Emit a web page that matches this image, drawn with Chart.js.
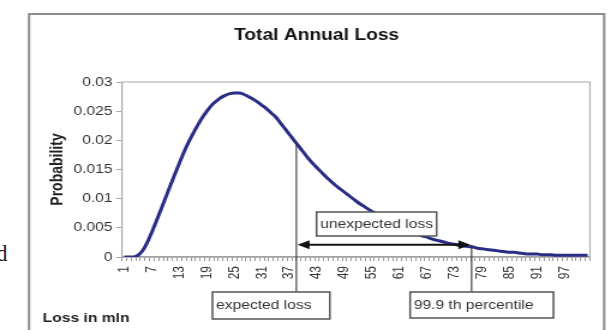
<!DOCTYPE html>
<html><head><meta charset="utf-8">
<script src="https://cdn.jsdelivr.net/npm/chart.js@4/dist/chart.umd.min.js"></script>
<style>
html,body{margin:0;padding:0;background:#fff;overflow:hidden;width:611px;height:330px;}
#wrap{position:absolute;left:0;top:0;width:509px;height:330px;transform:scaleX(1.2004);transform-origin:0 0;}
#stray{position:absolute;left:-4px;top:240px;font-family:'Liberation Serif',serif;font-size:23px;line-height:28px;color:#222;}
</style></head><body>
<div id="stray">d</div>
<div id="wrap"><canvas id="c"></canvas></div>
<script>
// ---- data ----
const lossCategories = [1,2,3,4,5,6,7,8,9,10,11,12,13,14,15,16,17,18,19,20,21,22,23,24,25,26,27,28,29,30,31,32,33,34,35,36,37,38,39,40,41,42,43,44,45,46,47,48,49,50,51,52,53,54,55,56,57,58,59,60,61,62,63,64,65,66,67,68,69,70,71,72,73,74,75,76,77,78,79,80,81,82,83,84,85,86,87,88,89,90,91,92,93,94,95,96,97,98,99,100,101,102];
const probability = [0,0,0,0.0003,0.0011,0.0025,0.0043,0.0062,0.0082,0.0102,
  0.0122,0.0142,0.0161,0.0180,0.0197,0.0212,0.0226,0.0239,0.0250,0.0260,
  0.0267,0.0273,0.0277,0.0280,0.0281,0.0281,0.0279,0.0275,0.0271,0.0266,
  0.0260,0.0254,0.0247,0.0240,0.0230,0.0220,0.0210,0.0200,0.0190,0.0180,
  0.0170,0.0161,0.0153,0.0145,0.0137,0.0130,0.0123,0.0117,0.0111,0.0105,
  0.0099,0.0093,0.0088,0.0083,0.0078,0.0074,0.0069,0.0065,0.0061,0.0057,
  0.0053,0.0049,0.0046,0.0042,0.0039,0.0036,0.0034,0.0031,0.0029,0.0027,
  0.0025,0.0023,0.0022,0.0020,0.0019,0.0018,0.0017,0.0015,0.0014,0.0013,
  0.0012,0.0011,0.0010,0.0009,0.0008,0.0008,0.0007,0.0006,0.0005,0.0005,
  0.0005,0.0004,0.0004,0.0004,0.0003,0.0003,0.0003,0.0003,0.0003,0.0003,
  0.0003,0.0003];
const xTickLabels = ['1','7','13','19','25','31','37','43','49','55','61','67','73','79','85','91','97'];
const yTickLabels = ['0','0.005','0.01','0.015','0.02','0.025','0.03'];
// annotation values (loss units / probability units)
const expectedLoss = 38.5;
const expectedLossLevel = 0.0197;
const percentile999 = 76.7;
const arrowLevel = 0.0021;

const FONT = "'Liberation Sans', Arial, sans-serif";

const decor = {
  id: 'decor',
  beforeDraw(chart) {
    const ctx = chart.ctx;
    ctx.save();
    ctx.strokeStyle = '#8c8c8c';
    ctx.lineWidth = 2;
    ctx.strokeRect(24.2, 14, 479.1, 340);
    ctx.restore();
  },
  beforeDatasetsDraw(chart) {
    const {ctx, chartArea: a} = chart;
    ctx.save();
    ctx.strokeStyle = '#a8a8a8';
    ctx.lineWidth = 1;
    ctx.strokeRect(a.left, a.top, a.right - a.left, a.bottom - a.top);
    ctx.restore();
  },
  afterDatasetsDraw(chart) {
    const {ctx, chartArea: a} = chart;
    const xs = chart.scales.x, ys = chart.scales.y;
    const xE = xs.getPixelForValue(expectedLoss - 1);
    const xP = xs.getPixelForValue(percentile999 - 1);
    const yA = ys.getPixelForValue(arrowLevel);
    const boxTop = a.bottom + 35;
    ctx.save();
    // vertical lines
    ctx.strokeStyle = '#333';
    ctx.lineWidth = 1.1;
    ctx.beginPath();
    ctx.moveTo(xE, ys.getPixelForValue(expectedLossLevel));
    ctx.lineTo(xE, boxTop);
    ctx.moveTo(xP, yA);
    ctx.lineTo(xP, boxTop);
    ctx.stroke();
    // arrow
    ctx.strokeStyle = '#111';
    ctx.fillStyle = '#111';
    ctx.lineWidth = 2;
    const x1 = xE + 1, x2 = xP - 1, hl = 10, hh = 4.5;
    ctx.beginPath();
    ctx.moveTo(x1 + hl - 1, yA);
    ctx.lineTo(x2 - hl + 1, yA);
    ctx.stroke();
    ctx.beginPath();
    ctx.moveTo(x1, yA); ctx.lineTo(x1 + hl, yA - hh); ctx.lineTo(x1 + hl, yA + hh); ctx.closePath();
    ctx.fill();
    ctx.beginPath();
    ctx.moveTo(x2, yA); ctx.lineTo(x2 - hl, yA - hh); ctx.lineTo(x2 - hl, yA + hh); ctx.closePath();
    ctx.fill();
    // boxes
    const boxes = [
      {text: 'expected loss', left: 20.2, top: boxTop, w: 97.8, h: 27},
      {text: '99.9 th percentile', left: 63.3, top: boxTop, w: 119.4, h: 26},
      {text: 'unexpected loss', left: 42.9, top: a.top + 130, w: 100, h: 24}
    ];
    ctx.font = '13px ' + FONT;
    ctx.textBaseline = 'middle';
    ctx.textAlign = 'left';
    boxes.forEach(b => {
      const bx = xs.getPixelForValue(b.left - 1);
      ctx.fillStyle = '#fff';
      ctx.fillRect(bx, b.top, b.w, b.h);
      ctx.strokeStyle = '#555';
      ctx.lineWidth = 1.5;
      ctx.strokeRect(bx, b.top, b.w, b.h);
      ctx.fillStyle = '#333';
      ctx.fillText(b.text, bx + 3, b.top + b.h / 2);
    });
    // x axis title
    ctx.font = 'bold 13px ' + FONT;
    ctx.fillStyle = '#222';
    ctx.fillText('Loss in mln', 35.6, 318);
    ctx.restore();
  }
};

new Chart(document.getElementById('c'), {
  type: 'line',
  data: {
    labels: lossCategories,
    datasets: [{
      data: probability,
      borderColor: '#2a2d84',
      borderWidth: 3,
      pointRadius: 0,
      fill: false,
      cubicInterpolationMode: 'monotone'
    }]
  },
  plugins: [decor],
  options: {
    responsive: true,
    maintainAspectRatio: false,
    animation: false,
    events: [],
    layout: {padding: {left: 35, right: 16.5, top: 0, bottom: 0}},
    plugins: {
      legend: {display: false},
      tooltip: {enabled: false},
      title: {
        display: true,
        text: 'Total Annual Loss',
        color: '#111',
        font: {family: FONT, size: 16, weight: 'bold'},
        padding: {top: 26.4, bottom: 36.4}
      }
    },
    scales: {
      x: {
        type: 'category',
        offset: true,
        afterFit(s) { s.height = 73; },
        grid: {display: true, drawOnChartArea: false, tickLength: 4, color: '#9a9a9a', offset: true},
        border: {display: true, color: '#999', width: 1.5},
        ticks: {
          autoSkip: false,
          minRotation: 90,
          maxRotation: 90,
          padding: 5,
          color: '#333',
          font: {family: FONT, size: 12},
          callback(v, i) {
            const lab = String(lossCategories[i]);
            return xTickLabels.includes(lab) ? lab : '';
          }
        }
      },
      y: {
        min: 0,
        max: 0.03,
        afterFit(s) { s.width = 66.7; },
        grid: {display: true, drawOnChartArea: false, tickLength: 5, color: '#aaa'},
        border: {display: true, color: '#a8a8a8', width: 1},
        ticks: {
          stepSize: 0.005,
          padding: 3,
          color: '#333',
          font: {family: FONT, size: 13},
          callback(v, i) { return yTickLabels[i]; }
        },
        title: {
          display: true,
          text: 'Probability',
          color: '#222',
          font: {family: FONT, size: 14, weight: 'bold'},
          padding: {top: 4.9, bottom: 0}
        }
      }
    }
  }
});
</script>
</body></html>
